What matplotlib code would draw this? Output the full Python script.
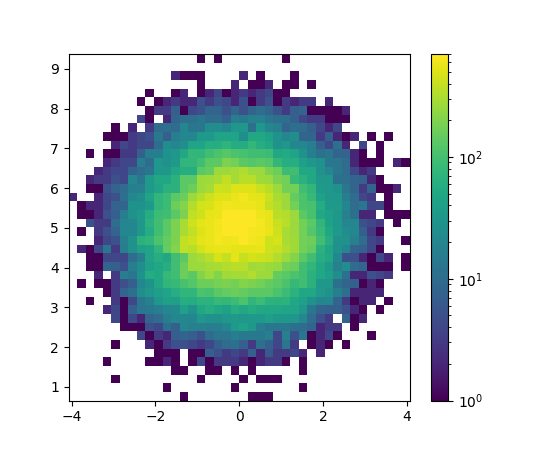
import numpy as np
import matplotlib
matplotlib.use("Agg")
import matplotlib.pyplot as plt
from matplotlib.colors import LogNorm

# Bin edges of the 2D histogram, 40 bins on each axis
x_range = (-4.07, 4.07)
y_range = (0.66, 9.37)
n_bins = 40

# Counts, top row first, left to right. 0 = empty cell
counts_top_down = [
    [0,0,0,0,0,0,0,0,0,0, 0,0,0,0,0,1,0,1,0,0, 0,0,0,0,0,1,0,0,0,0, 0,0,0,0,0,0,0,0,0,0],
    [0,0,0,0,0,0,0,0,0,0, 0,0,0,0,0,0,0,0,0,0, 0,0,0,0,0,0,0,0,0,0, 0,0,0,0,0,0,0,0,0,0],
    [0,0,0,0,0,0,0,0,0,0, 0,0,2,1,1,1,0,0,0,0, 2,0,1,0,0,0,1,0,0,0, 0,0,0,0,0,0,0,0,0,0],
    [0,0,0,0,0,0,0,0,0,0, 0,0,0,0,0,1,0,0,0,2, 0,1,1,2,0,1,1,0,1,0, 0,0,0,0,0,0,0,0,0,0],
    [0,0,0,0,0,0,0,0,0,1, 0,0,1,2,0,1,2,4,1,2, 3,2,3,4,1,1,0,0,0,0, 0,0,0,0,0,0,0,0,0,0],
    [0,0,0,0,0,0,0,0,1,0, 1,2,3,2,2,5,3,5,4,2, 5,1,3,5,1,3,2,3,3,0, 2,0,0,0,0,0,0,0,0,0],
    [0,0,0,0,0,0,0,0,0,1, 3,3,7,1,4,5,8,8,5,8, 5,8,10,8,5,3,7,8,1,1, 1,1,2,0,0,0,0,0,0,0],
    [0,0,0,0,0,0,0,0,4,1, 0,2,8,11,11,13,10,10,7,16, 14,17,17,13,11,11,7,4,3,3, 1,1,1,0,0,0,0,0,0,0],
    [0,0,0,0,0,1,0,2,0,3, 10,11,10,20,13,13,24,24,20,32, 32,11,32,20,17,8,11,10,7,4, 2,4,0,0,0,0,0,0,0,0],
    [0,0,0,0,1,1,1,3,4,5, 14,7,16,20,20,35,35,45,45,45, 24,50,50,42,27,20,24,8,8,3, 7,2,1,2,0,1,0,1,0,0],
    [0,0,0,0,0,2,4,3,4,4, 10,24,20,24,45,45,58,60,70,56, 56,77,60,50,28,32,20,20,16,7, 4,11,2,0,4,0,1,0,0,0],
    [0,0,1,0,1,1,3,3,7,16, 16,28,32,50,77,72,95,110,125,110, 105,95,95,88,50,53,45,28,16,11, 13,8,8,2,1,0,1,0,0,0],
    [0,0,0,0,2,3,4,4,16,10, 32,27,35,72,72,95,135,135,190,175, 135,120,130,120,77,58,58,38,32,27, 13,13,10,2,1,1,1,0,2,1],
    [0,0,0,2,3,4,4,8,10,13, 32,32,50,60,60,130,145,260,260,290, 320,260,260,190,160,88,95,50,50,27, 20,13,10,4,2,3,0,0,0,0],
    [0,0,2,3,3,5,4,20,13,35, 50,50,65,130,130,260,275,300,380,290, 345,345,275,260,190,175,80,65,50,32, 32,11,11,8,7,2,1,0,0,0],
    [0,0,1,1,5,8,10,16,17,35, 45,65,65,130,160,260,290,420,410,500, 490,490,410,350,260,175,175,95,72,35, 32,27,13,8,3,8,1,1,2,0],
    [2,0,0,2,4,5,11,20,24,45, 72,88,130,160,260,340,420,490,510,570, 630,530,540,410,300,260,145,110,80,42, 33,33,16,10,4,3,0,1,0,0],
    [0,1,2,2,4,8,8,28,28,35, 72,88,160,205,330,450,470,570,610,600, 590,590,550,380,330,260,175,110,105,56, 35,35,20,10,13,4,4,1,0,0],
    [0,1,1,2,5,7,16,27,35,56, 88,95,130,190,370,430,550,570,690,690, 680,690,590,550,350,330,260,135,105,50, 42,32,17,11,2,2,0,1,1,1],
    [0,0,5,3,3,10,20,20,32,65, 95,130,190,300,430,530,570,630,680,700, 700,680,640,550,400,345,260,175,130,72, 42,32,20,20,5,4,3,0,1,0],
    [0,1,0,3,5,8,20,20,32,56, 95,130,190,300,370,500,570,630,690,700, 700,640,630,570,430,300,260,175,120,80, 50,35,24,20,7,3,1,0,0,0],
    [0,0,0,2,4,5,17,27,65,72, 110,145,190,370,420,530,570,640,600,610, 690,630,590,430,470,300,275,175,160,95, 60,27,27,17,10,4,3,0,0,1],
    [0,2,1,4,13,3,16,27,40,45, 72,145,205,370,350,460,530,570,570,530, 530,530,570,430,400,330,275,175,145,65, 45,28,20,8,7,4,1,0,0,0],
    [0,0,1,1,4,4,4,10,16,45, 60,50,95,130,260,300,350,470,390,530, 390,460,430,400,330,260,205,130,95,60, 50,20,5,5,2,1,4,2,0,1],
    [0,0,1,1,8,7,5,16,24,40, 50,60,95,160,260,260,290,300,330,350, 345,275,290,260,250,175,160,95,72,50, 35,17,24,10,8,1,1,1,0,1],
    [0,0,0,2,0,3,16,13,28,56, 50,80,95,160,130,205,260,205,275,290, 290,330,260,260,145,130,110,95,65,50, 38,24,11,2,2,5,4,3,0,0],
    [0,1,0,1,1,3,5,7,20,28, 50,72,80,105,120,160,160,180,190,175, 205,190,175,145,130,110,80,95,65,32, 32,11,8,7,1,2,1,0,0,0],
    [0,0,0,0,1,3,8,11,24,32, 38,45,60,72,72,110,105,135,145,160, 145,135,135,130,110,88,68,50,50,35, 27,16,11,2,2,2,2,0,0,0],
    [0,0,1,0,0,3,1,4,13,17, 32,42,38,60,56,68,68,80,77,88, 110,72,88,68,65,68,50,40,27,20, 20,8,3,1,2,2,0,1,0,0],
    [0,0,0,0,2,4,1,7,13,14, 16,20,22,40,27,50,60,50,42,60, 50,56,50,50,50,45,45,32,13,8, 7,7,5,2,1,0,1,0,0,0],
    [0,0,0,0,0,4,1,4,2,8, 10,16,20,20,20,32,27,27,32,35, 32,35,35,38,32,32,32,22,10,5, 3,0,8,1,2,0,0,0,0,0],
    [0,0,0,0,0,0,1,1,1,5, 4,11,7,20,17,17,16,16,20,35, 40,32,16,13,13,13,11,10,8,2, 3,3,0,1,0,0,0,0,0,0],
    [0,0,0,0,0,0,0,0,4,1, 3,2,7,8,7,5,10,13,13,16, 14,14,14,16,4,17,5,13,1,2, 4,1,0,0,0,1,0,0,0,0],
    [0,0,0,0,0,1,0,0,0,2, 1,3,5,5,4,3,4,7,10,11, 7,3,11,7,4,13,3,0,1,2, 1,0,1,0,0,0,0,0,0,0],
    [0,0,0,0,0,0,0,0,0,0, 1,1,1,0,1,1,7,5,3,4, 3,7,2,6,3,3,4,2,0,2, 0,0,0,0,0,0,0,0,0,0],
    [0,0,0,0,1,0,0,0,0,1, 1,2,1,0,1,4,1,3,3,3, 2,1,2,3,3,1,0,1,0,0, 0,0,0,0,0,0,0,0,0,0],
    [0,0,0,0,0,0,0,0,0,0, 0,0,1,1,0,0,1,1,0,1, 0,1,0,0,0,0,0,1,0,0, 0,0,0,0,0,0,0,0,0,0],
    [0,0,0,0,0,1,0,0,0,0, 0,0,0,0,0,1,0,0,0,0, 1,0,1,1,1,0,0,0,0,0, 0,0,0,0,0,0,0,0,0,0],
    [0,0,0,0,0,0,0,0,0,0, 0,1,0,0,0,0,0,0,0,1, 0,0,0,0,0,0,0,1,0,0, 0,0,0,0,0,0,0,0,0,0],
    [0,0,0,0,0,0,0,0,0,0, 0,0,0,1,0,0,0,0,0,0, 0,1,1,1,0,0,0,0,0,0, 0,0,0,0,0,0,0,0,0,0],
]

x_edges = np.linspace(x_range[0], x_range[1], n_bins + 1)
y_edges = np.linspace(y_range[0], y_range[1], n_bins + 1)

# Flip so row 0 is the bottom bin, and hide the empty cells
counts = np.ma.masked_equal(np.array(counts_top_down)[::-1], 0)

fig, ax = plt.subplots(figsize=(5.5, 4.5), dpi=100)
mesh = ax.pcolormesh(x_edges, y_edges, counts, norm=LogNorm(), cmap="viridis")
fig.colorbar(mesh, ax=ax)

fig.savefig("out.png", dpi=100)
